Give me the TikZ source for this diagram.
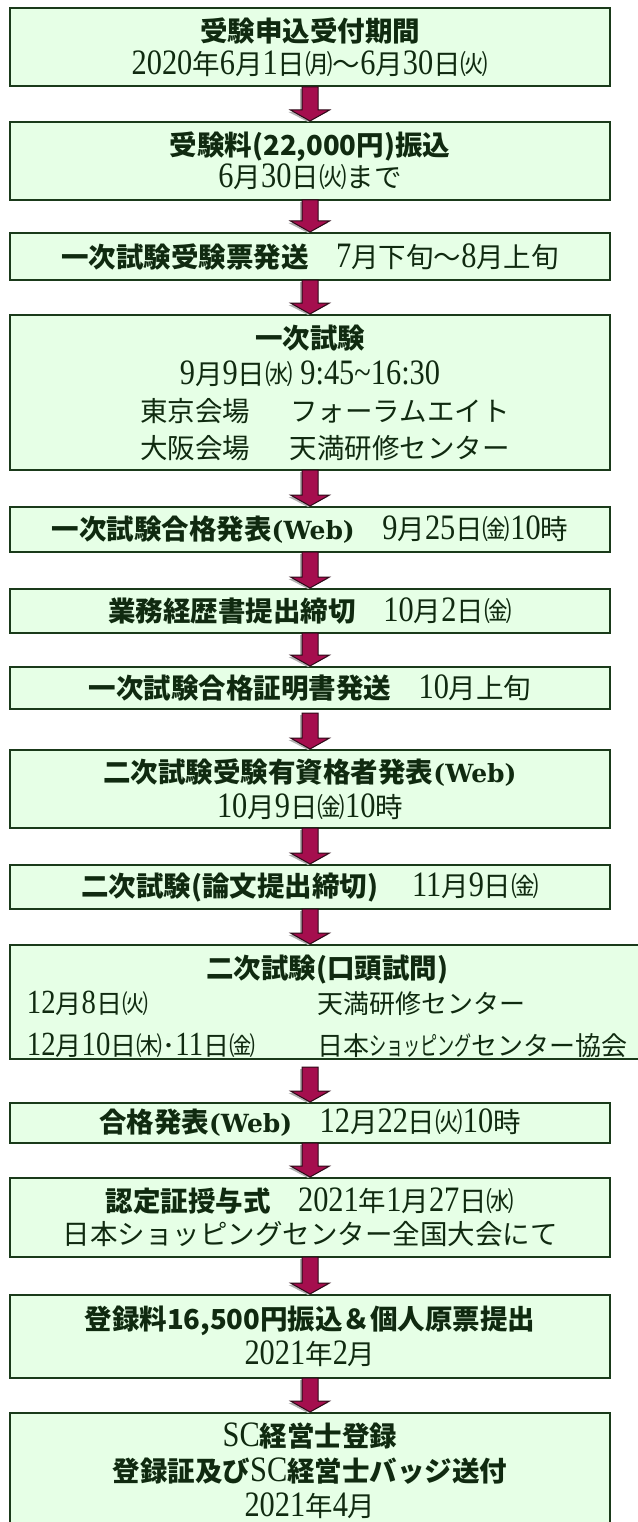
\documentclass[tikz,border=0pt]{standalone}
\usepackage{fontspec}
\setmainfont[Scale=1.3,FakeStretch=0.85]{Liberation Serif}
\newfontfamily\jp{Noto Sans CJK JP}
\newfontfamily\webfont{DejaVu Serif}
\usetikzlibrary{calc}
\definecolor{boxfill}{HTML}{E6FFE6}
\definecolor{boxline}{HTML}{1A3A1A}
\definecolor{txt}{HTML}{102A10}
\definecolor{arrfill}{HTML}{A50E4E}
\definecolor{arrline}{HTML}{2E0A18}
\newcommand\J[1]{{\jp #1}}
\newcommand\G[1]{{\jp\bfseries #1}}
\newcommand\W{{\webfont\bfseries\fontsize{25}{30}\selectfont (Web)}}
\newcommand\flowarrow[3]{%
  \path[arrowshadow] let \p1=($(#1.south -| axis)+(0,#3)$), \p2=($(#2.north -| axis)+(0,-1)$) in
    (\x1-10pt,\y1-2pt) -- (\x1+6pt,\y1-2pt) -- (\x1+6pt,\y2+9pt) -- (\x1+17.5pt,\y2+9pt) -- (\x1-2pt,\y2-1pt) -- (\x1-21.5pt,\y2+9pt) -- (\x1-10pt,\y2+9pt) -- cycle;
  \path[arrowbody] let \p1=($(#1.south -| axis)+(0,#3)$), \p2=($(#2.north -| axis)+(0,-1)$) in
    (\x1-8pt,\y1) -- (\x1+8pt,\y1) -- (\x1+8pt,\y2+11pt) -- (\x1+19.5pt,\y2+11pt) -- (\x1,\y2) -- (\x1-19.5pt,\y2+11pt) -- (\x1-8pt,\y2+11pt) -- cycle;
}
\begin{document}
\begin{tikzpicture}[x=1pt,y=-1pt,
  flowbox/.style={draw=boxline, line width=2.2pt, fill=boxfill, text=txt, inner sep=0pt, outer sep=0pt,
    minimum width=600pt, align=center, font=\fontsize{27.5}{34}\selectfont},
  boxtext/.style={text=txt, inner sep=0pt, outer sep=0pt, font=\fontsize{27.5}{34}\selectfont},
  rowtext/.style={text=txt, inner sep=0pt, outer sep=0pt, font=\fontsize{26}{32}\selectfont},
  arrowbody/.style={draw=arrline, line width=1pt, fill=arrfill, line join=miter},
  arrowshadow/.style={fill=black!30}]
\useasboundingbox (0,0) rectangle (637,1522);
\fill[white] (0,0) rectangle (637,1522);
\coordinate (axis) at (310,0);

\node[flowbox, minimum height=78pt, font=\fontsize{27.5}{33}\selectfont] (b1) at (310,47)
  {\G{受験申込受付期間}\\2020\J{年}6\J{月}1\J{日㈪～}6\J{月}30\J{日㈫}};
\node[flowbox, minimum height=78pt, font=\fontsize{27.5}{32}\selectfont] (b2) at (310,161)
  {\G{受験料(22,000円)振込}\\6\J{月}30\J{日㈫まで}};
\node[flowbox, minimum height=47pt] (b3) at (310,256.5)
  {\G{一次試験受験票発送}\J{　}7\J{月下旬～}8\J{月上旬}};
\node[flowbox, minimum height=155pt, font=\fontsize{27.5}{36.7}\selectfont] (b4) at (310,392.5)
  {\G{一次試験}\\9\J{月}9\J{日㈬}\ 9:45\textasciitilde16:30\\
   \hspace*{30pt}\J{東京会場\hspace{40pt}フォーラムエイト}\\
   \hspace*{30pt}\J{大阪会場\hspace{40pt}天満研修センター}};
\node[flowbox, minimum height=45pt] (b5) at (310,529.5)
  {\G{一次試験合格発表}\W\J{　}9\J{月}25\J{日㈮}10\J{時}};
\node[flowbox, minimum height=44pt] (b6) at (310,611)
  {\G{業務経歴書提出締切}\J{　}10\J{月}2\J{日㈮}};
\node[flowbox, minimum height=42pt] (b7) at (310,688)
  {\G{一次試験合格証明書発送}\J{　}10\J{月上旬}};
\node[flowbox, minimum height=78pt, font=\fontsize{27.5}{35}\selectfont] (b8) at (310,789)
  {\G{二次試験受験有資格者発表}\W\\10\J{月}9\J{日㈮}10\J{時}};
\node[flowbox, minimum height=44pt] (b9) at (310,887)
  {\G{二次試験(論文提出締切)}\hspace{34pt}11\J{月}9\J{日㈮}};
\node[flowbox, minimum width=634pt, minimum height=114pt] (b10) at (327,1002) {};
\node[boxtext, anchor=base] (b10h) at (327,978.5) {\G{二次試験(口頭試問)}};
\node[rowtext, anchor=base west] (b10a) at (27,1013) {12\J{月}8\J{日㈫}};
\node[rowtext, anchor=base west] (b10b) at (317,1013) {\J{天満研修センター}};
\node[rowtext, anchor=base west] (b10c) at (27,1055) {12\J{月}10\J{日㈭･}11\J{日㈮}};
\node[rowtext, anchor=base west] (b10d) at (317,1055) {\J{日本\scalebox{0.66}[1]{ショッピング}センター協会}};
\node[flowbox, minimum height=40pt] (b11) at (310,1123)
  {\G{合格発表}\W\J{　}12\J{月}22\J{日㈫}10\J{時}};
\node[flowbox, minimum height=79pt, font=\fontsize{27.5}{33}\selectfont] (b12) at (310,1217.5)
  {\G{認定証授与式}\J{　}2021\J{年}1\J{月}27\J{日㈬}\\\J{日本ショッピングセンター全国大会にて}};
\node[flowbox, minimum height=83pt, font=\fontsize{27.5}{35}\selectfont] (b13) at (310,1336.5)
  {\G{登録料16,500円振込＆個人原票提出}\\2021\J{年}2\J{月}};
\node[flowbox, minimum height=115pt, font=\fontsize{27.5}{35}\selectfont] (b14) at (310,1470.5)
  {SC\G{経営士登録}\\\G{登録証及び}SC\G{経営士バッジ送付}\\2021\J{年}4\J{月}};

\flowarrow{b1}{b2}{1}
\flowarrow{b2}{b3}{0}
\flowarrow{b3}{b4}{0}
\flowarrow{b4}{b5}{0}
\flowarrow{b5}{b6}{0}
\flowarrow{b6}{b7}{0}
\flowarrow{b7}{b8}{4}
\flowarrow{b8}{b9}{0}
\flowarrow{b9}{b10}{0}
\flowarrow{b10}{b11}{8}
\flowarrow{b11}{b12}{0}
\flowarrow{b12}{b13}{0}
\flowarrow{b13}{b14}{0}
\end{tikzpicture}
\end{document}
